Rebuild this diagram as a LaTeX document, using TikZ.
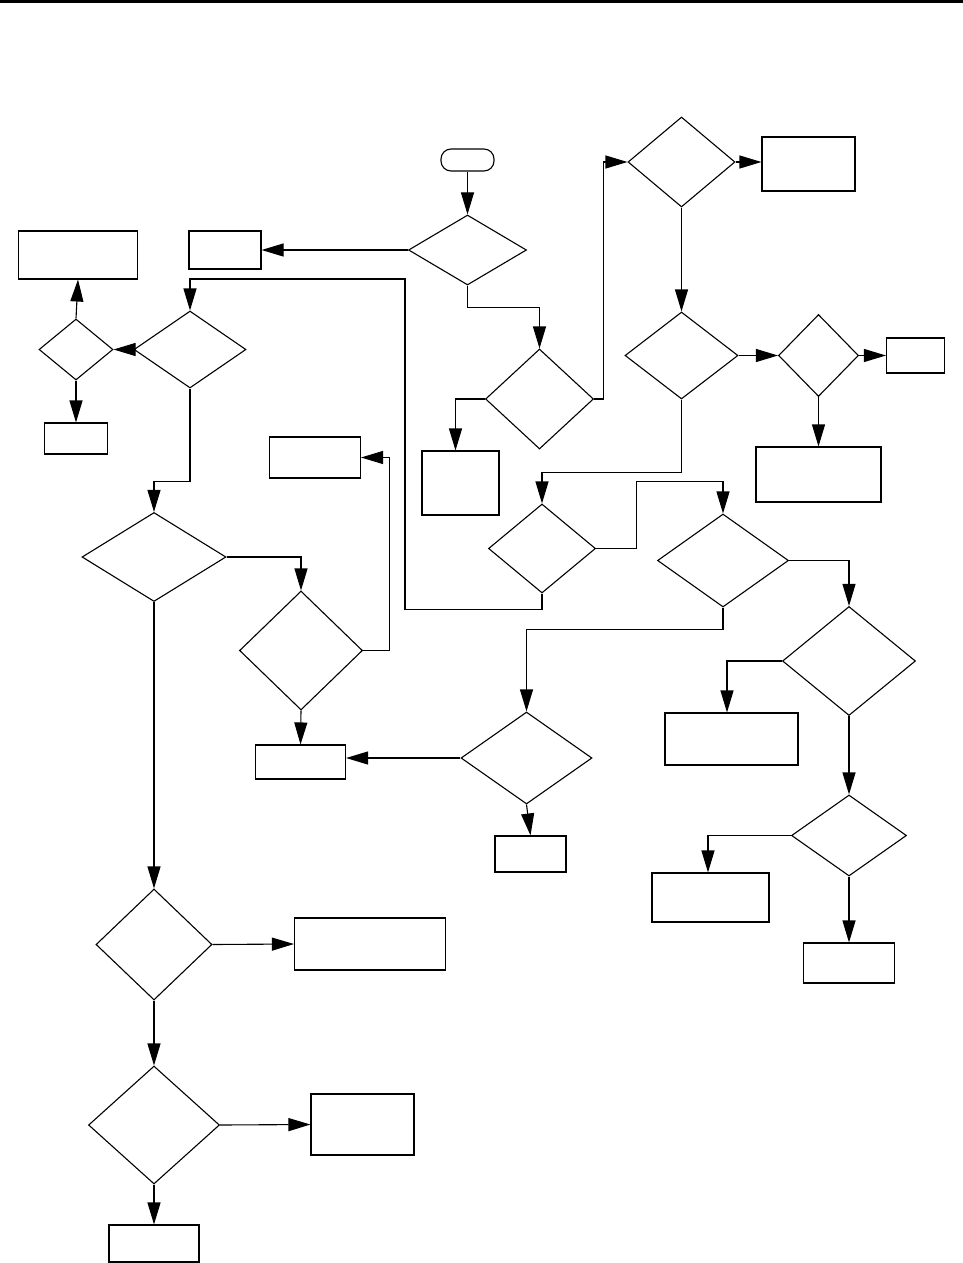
\documentclass[tikz,border=0pt]{standalone}
\usepackage{tikz}
\usetikzlibrary{shapes.geometric, arrows.meta, positioning}

\begin{document}
\begin{tikzpicture}[x=1pt, y=-1pt,
    block/.style={rectangle, draw, line width=1.1pt, inner sep=0pt},
    decision/.style={diamond, draw, line width=1.1pt, inner sep=0pt},
    line/.style={line width=1.1pt},
    arrow/.style={line width=1.1pt, -{Triangle[length=22pt, width=13pt]}}]

    \useasboundingbox (0,0) rectangle (963,1263);
    \draw [line width=2.6pt] (0,1.3) -- (963,1.3);

    % Start and first branch
    \node [block, rounded corners=10pt, minimum width=53pt, minimum height=22pt] (start) at (467.5,160) {};
    \node [decision, minimum width=118pt, minimum height=70pt] (d1) at (467.5,250) {};
    \node [block, minimum width=72pt, minimum height=38pt] (b1) at (225,250) {};
    \node [decision, minimum width=108pt, minimum height=100pt] (d2) at (539.5,399) {};
    \node [block, minimum width=77pt, minimum height=64pt] (b3) at (460.5,483) {};

    % Right column
    \node [decision, minimum width=107pt, minimum height=90pt] (d3) at (681.5,162) {};
    \node [block, minimum width=93pt, minimum height=54pt] (b4) at (808.5,164) {};
    \node [decision, minimum width=113pt, minimum height=87pt] (d4) at (681.5,355.5) {};
    \node [decision, minimum width=80pt, minimum height=82pt] (d5) at (818.5,355.5) {};
    \node [block, minimum width=58pt, minimum height=35pt] (b5) at (915.5,355.5) {};
    \node [block, minimum width=125pt, minimum height=55pt] (b6) at (818.5,474.5) {};
    \node [decision, minimum width=107pt, minimum height=89pt] (d6) at (542,548.5) {};
    \node [decision, minimum width=131pt, minimum height=93pt] (d7) at (723,560.5) {};
    \node [decision, minimum width=131pt, minimum height=92pt] (d12) at (526.5,758) {};
    \node [block, minimum width=71pt, minimum height=36pt] (b10) at (530.5,854) {};
    \node [decision, minimum width=133pt, minimum height=109pt] (d14) at (849,661) {};
    \node [block, minimum width=133pt, minimum height=52pt] (b11) at (731.5,739) {};
    \node [decision, minimum width=115pt, minimum height=81pt] (d15) at (849,835.5) {};
    \node [block, minimum width=117pt, minimum height=49pt] (b12) at (710.5,897.5) {};
    \node [block, minimum width=91pt, minimum height=40pt] (b13) at (849,963) {};

    % Left column
    \node [block, minimum width=119pt, minimum height=48pt] (tl) at (78,255) {};
    \node [decision, minimum width=112pt, minimum height=77pt] (d8) at (190,349.5) {};
    \node [decision, minimum width=74pt, minimum height=61pt] (d9) at (76,349.5) {};
    \node [block, minimum width=63pt, minimum height=31pt] (b7) at (76,438.5) {};
    \node [block, minimum width=91pt, minimum height=41pt] (b8) at (315,457.5) {};
    \node [decision, minimum width=144pt, minimum height=89pt] (d10) at (154,557) {};
    \node [decision, minimum width=123pt, minimum height=119pt] (d11) at (301,650.5) {};
    \node [block, minimum width=90pt, minimum height=34pt] (b9) at (300.5,762) {};
    \node [decision, minimum width=116pt, minimum height=111pt] (d13) at (154,944.5) {};
    \node [block, minimum width=151pt, minimum height=52pt] (b14) at (370,944) {};
    \node [decision, minimum width=131pt, minimum height=118pt] (d16) at (154,1125) {};
    \node [block, minimum width=103pt, minimum height=61pt] (b15) at (362.5,1124.5) {};
    \node [block, minimum width=90pt, minimum height=37pt] (b16) at (154,1243.5) {};

    \coordinate (looptop) at (405,279);

    % Arrows
    \draw [arrow] (start) -- (d1);
    \draw [arrow] (d1.west) -- (d1.west -| b1.east);
    \draw [arrow] (d1.south) -- ++(0,22) -| (d2.north);
    \draw [arrow] (d2.west) -| ([xshift=-5pt]b3.north);
    \draw [arrow] (d2.east) -- ++(9,0) |- (d3.west);
    \draw [arrow] (d3.east) -- (d3.east -| b4.west);
    \draw [arrow] (d3.south) -- (d4.north);
    \draw [arrow] (d4.east) -- (d5.west);
    \draw [arrow] (d5.east) -- (b5.west);
    \draw [arrow] (d5.south) -- (b6.north);
    \draw [arrow] (d4.south) -- ++(0,73) -| (d6.north);
    \draw [arrow] (d6.east) -- ++(40,0) |- ([yshift=32pt]d7.north) -- (d7.north);
    \draw [arrow] (d6.south) -- ++(0,16) -| (looptop) -| (d8.north);
    \draw [arrow] (d8.west) -- (d9.east);
    \draw [arrow] (d9.north) -- (tl.south);
    \draw [arrow] (d9.south) -- (b7.north);
    \draw [arrow] (d8.south) -- ++(0,93) -| (d10.north);
    \draw [arrow] (d10.east) -| (d11.north);
    \draw [arrow] (d11.east) -- ++(26,0) |- (b8.east);
    \draw [arrow] (d11.south) -- (b9.north);
    \draw [arrow] (d12.west) -- (d12.west -| b9.east);
    \draw [arrow] (d12.south) -- (b10.north);
    \draw [arrow] (d7.south) -- ++(0,22) -| (d12.north);
    \draw [arrow] (d7.east) -| (d14.north);
    \draw [arrow] (d14.west) -| ([xshift=-4.5pt]b11.north);
    \draw [arrow] (d14.south) -- (d15.north);
    \draw [arrow] (d15.west) -| ([xshift=-2.5pt]b12.north);
    \draw [arrow] (d15.south) -- (b13.north);
    \draw [arrow] (d10.south) -- (d13.north);
    \draw [arrow] (d13.east) -- (b14.west);
    \draw [arrow] (d13.south) -- (d16.north);
    \draw [arrow] (d16.east) -- (b15.west);
    \draw [arrow] (d16.south) -- (b16.north);
\end{tikzpicture}
\end{document}
